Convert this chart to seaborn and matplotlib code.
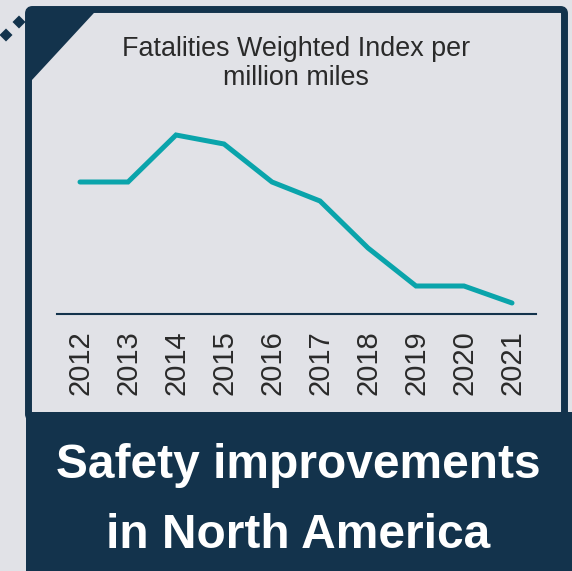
import matplotlib
matplotlib.use("Agg")
import matplotlib.pyplot as plt
from matplotlib.patches import FancyBboxPatch, Polygon, Rectangle
import pandas as pd
import seaborn as sns

# Data
years = [2012, 2013, 2014, 2015, 2016, 2017, 2018, 2019, 2020, 2021]
fwi = [1.32, 1.32, 1.79, 1.70, 1.32, 1.13, 0.66, 0.28, 0.28, 0.11]
chart_title = ["Fatalities Weighted Index per", "million miles"]
banner_lines = ["Safety improvements", "in North America"]

BG = "#e1e2e7"
NAVY = "#13334c"
TEAL = "#0aa4ab"
TEXT = "#2a2a2a"

sns.set_theme(style="white")
plt.rcParams["font.family"] = ["Liberation Sans", "DejaVu Sans"]

W, H = 572, 571
fig = plt.figure(figsize=(W / 100, H / 100), dpi=100, facecolor=BG)

# Decoration layer in pixel units (y measured from top)
deco = fig.add_axes([0, 0, 1, 1])
deco.set_xlim(0, W)
deco.set_ylim(0, H)
deco.axis("off")
deco.set_facecolor(BG)


def Y(y):
    return H - y


# Framed panel
panel = FancyBboxPatch((28.5, Y(418)), 536, 418 - 9.5,
                       boxstyle="round,pad=0,rounding_size=4",
                       facecolor=BG, edgecolor=NAVY, linewidth=5.0)
deco.add_patch(panel)

# Corner triangle
deco.add_patch(Polygon([(28, Y(9)), (97.6, Y(9)), (28, Y(84.3))],
                       closed=True, facecolor=NAVY, edgecolor="none"))

# Dotted accent
for cx, cy in [(19, 22), (6, 35)]:
    r = 6.5
    deco.add_patch(Polygon([(cx, Y(cy - r)), (cx + r, Y(cy)),
                            (cx, Y(cy + r)), (cx - r, Y(cy))],
                           closed=True, facecolor=NAVY, edgecolor="none"))

# Banner
deco.add_patch(Rectangle((26, 0), W - 26, Y(412), facecolor=NAVY,
                         edgecolor="none"))

# Chart title
deco.text(296, Y(56), chart_title[0], ha="center", va="baseline",
          fontsize=19.4, color=TEXT)
deco.text(296, Y(85), chart_title[1], ha="center", va="baseline",
          fontsize=19.4, color=TEXT)

# Banner text
deco.text(298, Y(478), banner_lines[0], ha="center", va="baseline",
          fontsize=34.5, fontweight="bold", color="white")
deco.text(298, Y(548), banner_lines[1], ha="center", va="baseline",
          fontsize=34.5, fontweight="bold", color="white")

# Line chart
x0, x1 = 57, 536
yb, yt = 314, 110
ax = fig.add_axes([x0 / W, (H - yb) / H, (x1 - x0) / W, (yb - yt) / H])
ax.patch.set_alpha(0)

df = pd.DataFrame({"year": years, "fwi": fwi})
sns.lineplot(data=df, x="year", y="fwi", ax=ax, color=TEAL, linewidth=3.6,
             solid_capstyle="round", solid_joinstyle="miter")

ax.set_xlim(2012 - 23 / 48, 2012 + 456 / 48)
ax.set_ylim(0, 2.04)
ax.set_xticks(years)
ax.set_xticklabels([str(y) for y in years], rotation=90, fontsize=21,
                   color=TEXT)
ax.tick_params(axis="x", length=0, pad=12)
ax.set_yticks([])
ax.set_xlabel("")
ax.set_ylabel("")
for side in ["top", "left", "right"]:
    ax.spines[side].set_visible(False)
ax.spines["bottom"].set_color(NAVY)
ax.spines["bottom"].set_linewidth(1.5)

fig.savefig("out.png", dpi=100, facecolor=BG)
